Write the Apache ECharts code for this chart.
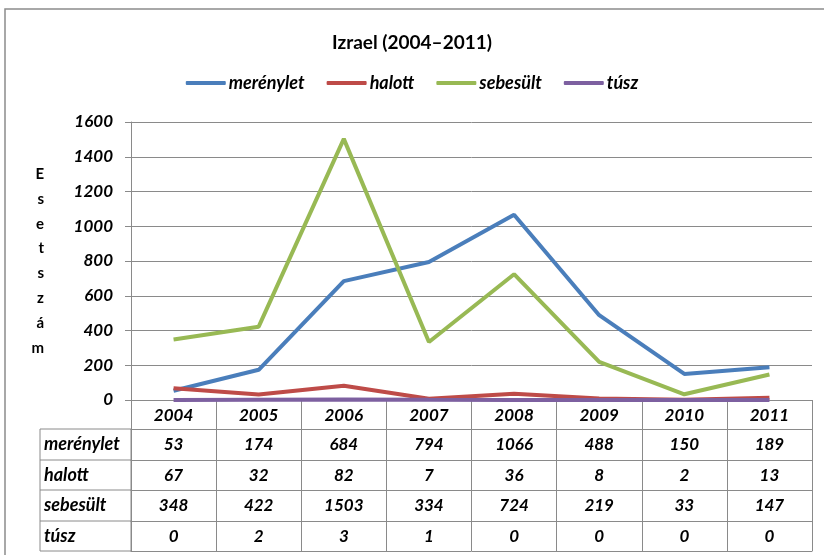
<!DOCTYPE html>
<html>
<head>
<meta charset="utf-8">
<script src="https://cdn.jsdelivr.net/npm/echarts@6/dist/echarts.min.js"></script>
<style>
  html, body { margin: 0; padding: 0; background: #fff; }
  #chart { width: 824px; height: 555px; }
</style>
</head>
<body>
<div id="chart"></div>
<script>
/* ---------------- data ---------------- */
const years = ['2004', '2005', '2006', '2007', '2008', '2009', '2010', '2011'];
const merenylet = [53, 174, 684, 794, 1066, 488, 150, 189];
const halott = [67, 32, 82, 7, 36, 8, 2, 13];
const sebesult = [348, 422, 1503, 334, 724, 219, 33, 147];
const tusz = [0, 2, 3, 1, 0, 0, 0, 0];
const yTicks = { min: 0, max: 1600, interval: 200 };

const seriesNames = ['merénylet', 'halott', 'sebesült', 'túsz'];
const seriesData = [merenylet, halott, sebesult, tusz];
const colors = ['#4a7ebb', '#be4b48', '#98b954', '#7d60a0'];

/* ---------------- layout ---------------- */
const W = 824, H = 555;
const gridLeft = 131, gridRight = 812, gridTop = 122, gridBottom = 400;
const rowOffsets = [29, 60, 90, 121];   // table row lines below zero axis
const tableBottom = 151;
const labelColLeft = 40;
const FONT = 'Lato, "Open Sans", sans-serif';
const gray = '#8a8a8a';

const numStyle = { fontFamily: FONT, fontWeight: 'bold', fontStyle: 'italic', fontSize: 17, color: '#000' };

/* table rows as extra x axes */
const tableAxes = seriesData.map((d, i) => ({
  type: 'category',
  gridIndex: 0,
  position: 'bottom',
  offset: rowOffsets[i],
  data: d.map(String),
  axisLine: { show: true, lineStyle: { color: gray, width: 1 } },
  axisTick: { show: false },
  axisLabel: Object.assign({ margin: 7 }, numStyle),
  splitLine: { show: false }
}));
tableAxes.push({
  type: 'category',
  gridIndex: 0,
  position: 'bottom',
  offset: tableBottom,
  data: years,
  axisLine: { show: true, lineStyle: { color: gray, width: 1 } },
  axisTick: { show: false },
  axisLabel: { show: false }
});

/* row label column */
const rowGraphics = [];
const rowTops = [rowOffsets[0], rowOffsets[1], rowOffsets[2], rowOffsets[3], tableBottom];
rowGraphics.push({
  type: 'rect',
  shape: { x: labelColLeft, y: gridBottom + rowTops[0], width: gridLeft - labelColLeft, height: tableBottom - rowTops[0] },
  style: { fill: 'none', stroke: gray, lineWidth: 1 }
});
for (let i = 0; i < seriesNames.length; i++) {
  if (i > 0) {
    rowGraphics.push({
      type: 'line',
      shape: { x1: labelColLeft, y1: gridBottom + rowTops[i], x2: gridLeft, y2: gridBottom + rowTops[i] },
      style: { stroke: gray, lineWidth: 1 }
    });
  }
  rowGraphics.push({
    type: 'text',
    x: labelColLeft + 4,
    y: gridBottom + (rowTops[i] + rowTops[i + 1]) / 2,
    style: { text: seriesNames[i], verticalAlign: 'middle', align: 'left', font: 'italic bold 18px ' + FONT, fill: '#000' }
  });
}

const option = {
  animation: false,
  backgroundColor: '#fff',
  color: colors,
  title: {
    text: 'Izrael (2004–2011)',
    left: 'center',
    top: 28,
    textStyle: { fontFamily: FONT, fontWeight: 'bold', fontSize: 19, color: '#000' }
  },
  legend: {
    top: 69,
    left: 'center',
    itemWidth: 40,
    itemHeight: 4,
    itemGap: 22,
    icon: 'roundRect',
    textStyle: { fontFamily: FONT, fontWeight: 'bold', fontStyle: 'italic', fontSize: 18, color: '#000', padding: [0, 0, 0, -2] },
    data: seriesNames
  },
  grid: { left: gridLeft, right: W - gridRight, top: gridTop, bottom: H - gridBottom, containLabel: false },
  xAxis: [{
    type: 'category',
    data: years,
    boundaryGap: true,
    axisLine: { show: true, lineStyle: { color: gray, width: 1 } },
    axisTick: { show: true, inside: false, length: tableBottom, lineStyle: { color: gray, width: 1 } },
    axisLabel: Object.assign({ margin: 7 }, numStyle),
    splitLine: { show: false }
  }].concat(tableAxes),
  yAxis: {
    type: 'value',
    min: yTicks.min,
    max: yTicks.max,
    interval: yTicks.interval,
    name: 'E\ns\ne\nt\ns\nz\ná\nm',
    nameLocation: 'middle',
    nameRotate: 0,
    nameGap: 87,
    nameTextStyle: { fontFamily: FONT, fontWeight: 'bold', fontSize: 15, color: '#000', lineHeight: 24.8 },
    axisLine: { show: true, lineStyle: { color: gray, width: 1 } },
    axisTick: { show: true, length: 6, lineStyle: { color: gray } },
    axisLabel: Object.assign({ margin: 18, formatter: v => String(v) }, numStyle),
    splitLine: { show: true, lineStyle: { color: gray, width: 1 } }
  },
  series: seriesNames.map((n, i) => ({
    name: n,
    type: 'line',
    data: seriesData[i],
    symbol: 'none',
    lineStyle: { width: 4, color: colors[i] },
    itemStyle: { color: colors[i] },
    z: 3 + i
  })),
  graphic: [{
    type: 'rect',
    shape: { x: 5, y: 9, width: W, height: H },
    style: { fill: 'none', stroke: '#8c8c8c', lineWidth: 1.5 },
    silent: true
  }].concat(rowGraphics)
};

const chart = echarts.init(document.getElementById('chart'), null, { renderer: 'canvas' });
chart.setOption(option);
</script>
</body>
</html>
